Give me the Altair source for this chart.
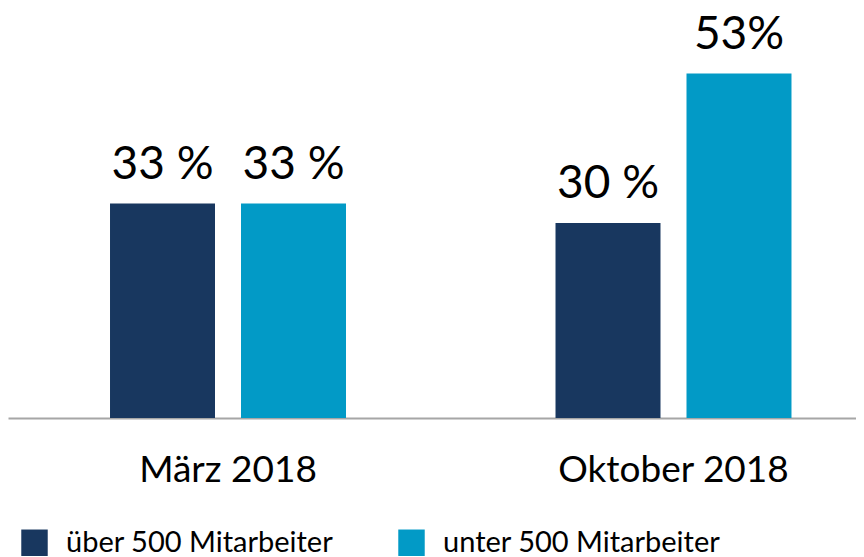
import altair as alt
import pandas as pd

periods = ["März 2018", "März 2018", "Oktober 2018", "Oktober 2018"]
groups = ["über 500 Mitarbeiter", "unter 500 Mitarbeiter", "über 500 Mitarbeiter", "unter 500 Mitarbeiter"]
values = [33, 33, 30, 53]
labels = ["33 %", "33 %", "30 %", "53%"]
group_order = ["über 500 Mitarbeiter", "unter 500 Mitarbeiter"]
period_order = ["März 2018", "Oktober 2018"]
colors = ["#18375f", "#029ac6"]

df = pd.DataFrame({"Zeitraum": periods, "Gruppe": groups, "Wert": values, "Label": labels})

FONT = "Lato"

x_enc = alt.X("Zeitraum:N", sort=period_order, title=None,
              scale=alt.Scale(paddingInner=0.4703, paddingOuter=0.1869, align=0.6126),
              axis=alt.Axis(labelAngle=0, labelFontSize=37, labelFont=FONT, labelColor="#000000",
                            labelPadding=34, labelLimit=500, ticks=False,
                            domainColor="#a6a6a6", domainWidth=2))
xo_enc = alt.XOffset("Gruppe:N", sort=group_order,
                     scale=alt.Scale(paddingInner=0.1985, paddingOuter=0))
y_enc = alt.Y("Wert:Q", scale=alt.Scale(domain=[0, 61.85], nice=False, zero=True), axis=None)

bars = alt.Chart(df).mark_bar().encode(
    x=x_enc, xOffset=xo_enc, y=y_enc,
    color=alt.Color("Gruppe:N", sort=group_order,
                    scale=alt.Scale(domain=group_order, range=colors),
                    legend=alt.Legend(title=None, orient="none", direction="horizontal",
                                      legendX=12, legendY=512, symbolType="square",
                                      symbolSize=700, symbolStrokeWidth=0, labelFont=FONT,
                                      labelFontSize=29, labelColor="#000000", labelOffset=17,
                                      columnPadding=63, labelLimit=500))
)

text = alt.Chart(df).mark_text(baseline="bottom", dy=-15, fontSize=46, font=FONT, color="#000000").encode(
    x=alt.X("Zeitraum:N", sort=period_order), xOffset=alt.XOffset("Gruppe:N", sort=group_order),
    y="Wert:Q", text="Label:N"
)

chart = (bars + text).properties(
    width=848, height=402,
    autosize=alt.AutoSizeParams(type="none"),
    padding={"left": 0, "top": 8, "right": 0, "bottom": 141},
).configure_view(stroke=None)

chart.save("out.html", embed_options={"renderer": "svg", "actions": False})
